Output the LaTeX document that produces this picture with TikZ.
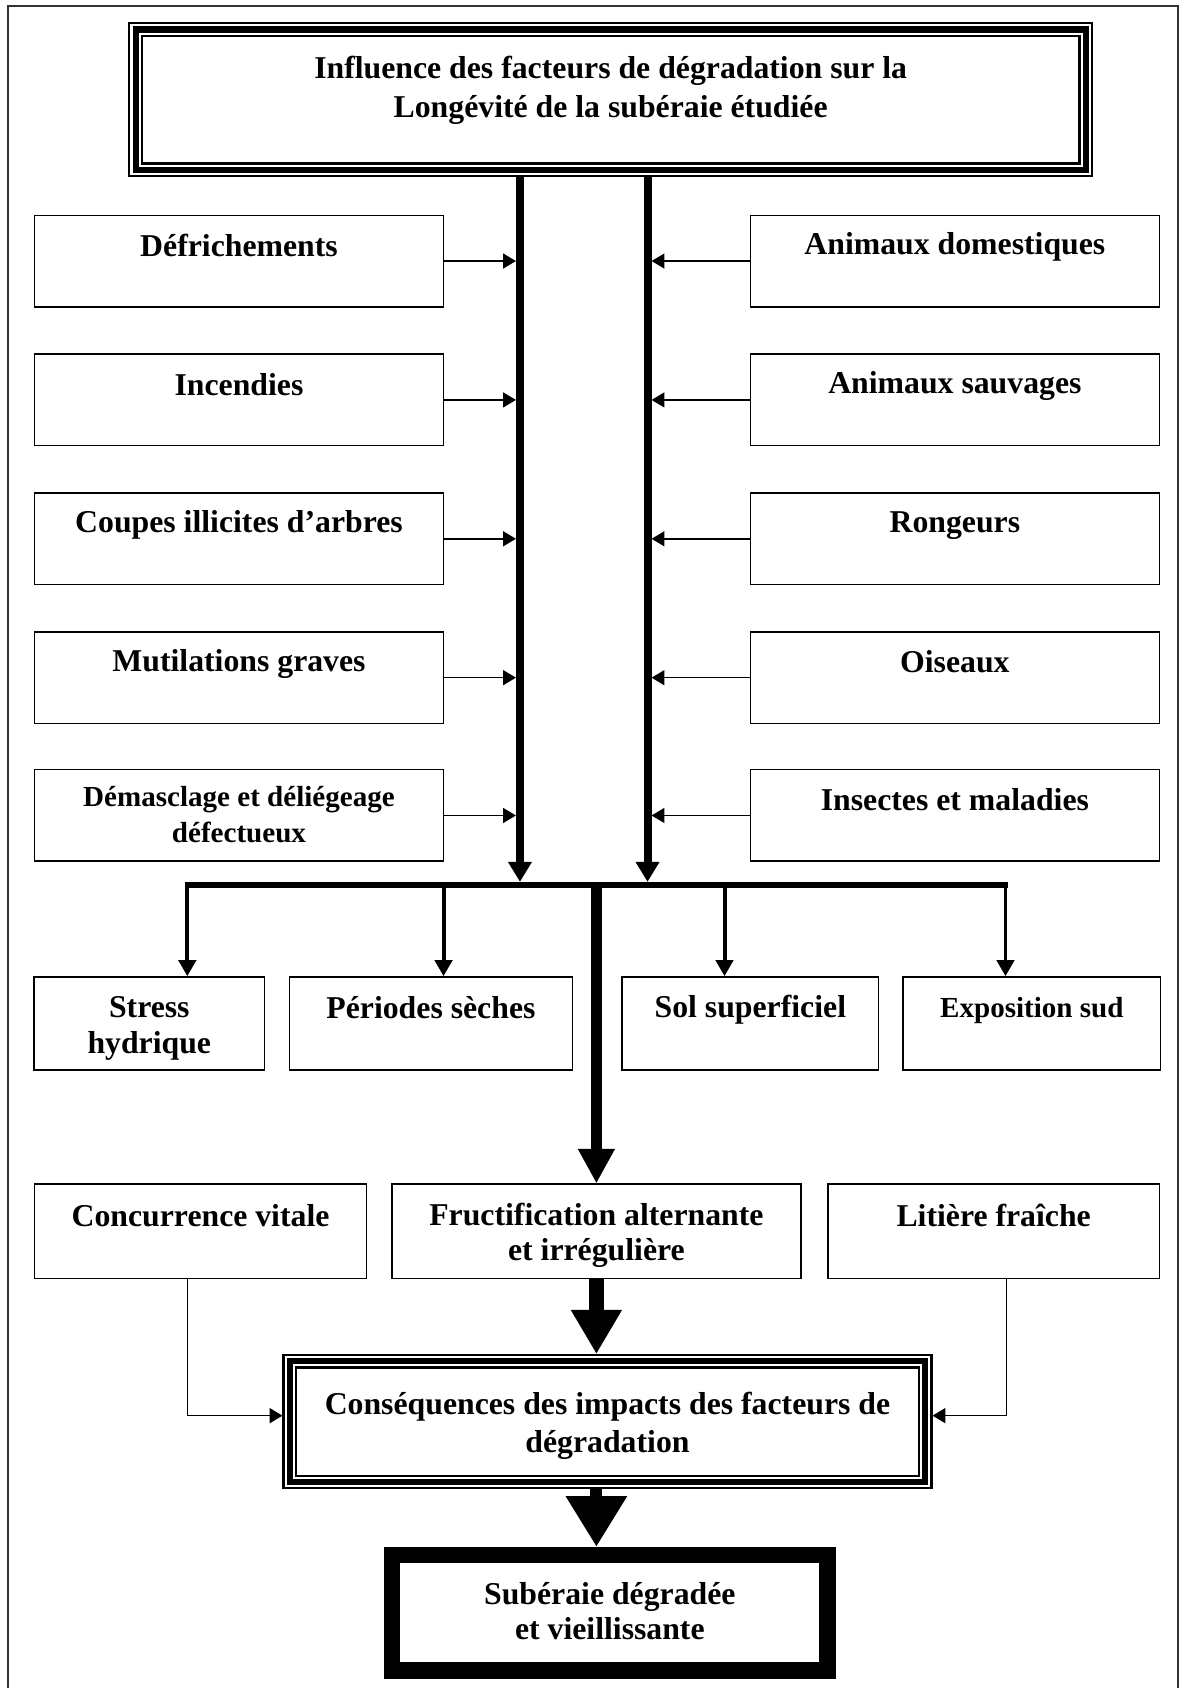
\documentclass[tikz,border=0pt]{standalone}
\usepackage{fontspec}
\setmainfont{Liberation Serif}
\usetikzlibrary{arrows.meta,calc}
\newcommand\mystrut{\rule[-4.5pt]{0pt}{33pt}}
\newcommand\ostrut{\rule[-8pt]{0pt}{33pt}}
\newcommand\tripleframe[1]{%
  \draw[line width=1.9pt] ($(#1.north west)+(0.95,0.95)$) rectangle ($(#1.south east)+(-0.95,-0.95)$);
  \draw[line width=5.6pt] ($(#1.north west)+(6.6,6.6)$) rectangle ($(#1.south east)+(-6.6,-6.6)$);
  \draw[line width=2.2pt] ($(#1.north west)+(12.4,12.4)$) rectangle ($(#1.south east)+(-12.4,-12.4)$);
}
\begin{document}
\begin{tikzpicture}[x=1pt,y=-1pt,
  txt/.style={align=center,inner sep=0pt,font=\bfseries\fontsize{29.5}{33}\selectfont},
  box/.style={txt,draw,line width=1.4pt,rectangle},
  smallfont/.style={font=\bfseries\fontsize{27}{31}\selectfont},
  sidearrow/.style={line width=1.3pt,-{Triangle[length=12pt,width=14pt]}},
  trunk/.style={line width=7.5pt,-{Triangle[length=18.6pt,width=21pt]}},
  branch/.style={line width=3.7pt,-{Triangle[length=15pt,width=16pt]}},
  midarrow/.style={line width=9.5pt,-{Triangle[length=32pt,width=32pt]}},
  fatarrow/.style={line width=14pt,-{Triangle[length=41pt,width=44.5pt]}},
  hugearrow/.style={line width=11pt,-{Triangle[length=47pt,width=54pt]}}
]
\useasboundingbox (0,0) rectangle (1101,1568);
% outer frame
\draw[line width=1.9pt,black!80] (7.5,1568) -- (7.5,5.5) -- (1094,5.5) -- (1094,1568);

% title box
\node[minimum width=895.5pt,minimum height=143pt,inner sep=0pt] (top) at (567.25,92.5) {};
\tripleframe{top}
\node[txt] (toptitle) at ($(top.center)+(0,-12.5)$)
  {\mystrut Influence des facteurs de dégradation sur la\\\mystrut Longévité de la subéraie étudiée};

% left boxes
\node[box,minimum width=380pt,minimum height=85pt] (L1) at (222,242.5) {\mystrut Défrichements\\\mystrut};
\node[box,minimum width=380pt,minimum height=85pt] (L2) at (222,371.5) {\mystrut Incendies\\\mystrut};
\node[box,minimum width=380pt,minimum height=85pt] (L3) at (222,500.5) {\mystrut Coupes illicites d’arbres\\\mystrut};
\node[box,minimum width=380pt,minimum height=85pt] (L4) at (222,629.5) {\mystrut Mutilations graves\\\mystrut};
\node[box,smallfont,minimum width=380pt,minimum height=85pt] (L5) at (222,757.5) {\ostrut Démasclage et déliégeage\\\ostrut défectueux};
% right boxes
\node[box,minimum width=380pt,minimum height=85pt] (R1) at (887,242.5) {\mystrut Animaux domestiques\\\mystrut};
\node[box,minimum width=380pt,minimum height=85pt] (R2) at (887,371.5) {\mystrut Animaux sauvages\\\mystrut};
\node[box,minimum width=380pt,minimum height=85pt] (R3) at (887,500.5) {\mystrut Rongeurs\\\mystrut};
\node[box,minimum width=380pt,minimum height=85pt] (R4) at (887,629.5) {\mystrut Oiseaux\\\mystrut};
\node[box,minimum width=380pt,minimum height=85pt] (R5) at (887,757.5) {\mystrut Insectes et maladies\\\mystrut};

% row 2
\node[box,minimum width=214pt,minimum height=86.5pt] (S1) at (138.7,950.75) {\mystrut Stress\\\mystrut hydrique};
\node[box,minimum width=262.6pt,minimum height=86.5pt] (S2) at (400.3,950.75) {\mystrut Périodes sèches\\\mystrut};
\node[box,minimum width=238pt,minimum height=86.5pt] (S3) at (697,950.75) {\mystrut Sol superficiel\\\mystrut};
\node[box,smallfont,minimum width=239pt,minimum height=86.5pt] (S4) at (958.5,950.75) {\mystrut Exposition sud\\\mystrut};

% row 3
\node[box,minimum width=308.7pt,minimum height=87.5pt] (K) at (186.3,1143.75) {\mystrut Concurrence vitale\\\mystrut};
\node[box,minimum width=380pt,minimum height=87.5pt] (F) at (554,1143.75) {\mystrut Fructification alternante\\\mystrut et irrégulière};
\node[box,minimum width=308pt,minimum height=87.5pt] (Li) at (923,1143.75) {\mystrut Litière fraîche\\\mystrut};

% consequences
\node[txt,minimum width=603.4pt,minimum height=125pt] (C) at (564.3,1320.5)
  {\mystrut Conséquences des impacts des facteurs de\\\mystrut dégradation};
\tripleframe{C}

% final box
\node[txt,minimum width=419pt,minimum height=122pt] (E) at (566.5,1498)
  {\ostrut Subéraie dégradée\\\ostrut et vieillissante};
\draw[line width=15pt] ($(E.north west)+(7.5,7.5)$) rectangle ($(E.south east)+(-7.5,-7.5)$);

% coordinates
\coordinate (jL) at (483,819.2);
\coordinate (jR) at (601.5,819.2);
\coordinate (xl) at (479.25,0);
\coordinate (xr) at (605.25,0);
\coordinate (barA) at (172,822);
\coordinate (barB) at (936,822);
\coordinate (d1) at (174,822);
\coordinate (d2) at (412,822);
\coordinate (d3) at (673,822);
\coordinate (d4) at (934,822);
\coordinate (c0) at (554,822);
\coordinate (kc) at (174,1315);
\coordinate (lc) at (935,1315);

% trunks
\draw[trunk] (top.south -| jL) -- (jL);
\draw[trunk] (top.south -| jR) -- (jR);
% side arrows
\foreach \n in {L1,L2,L3,L4,L5} \draw[sidearrow] (\n.east) -- (\n.east -| xl);
\foreach \n in {R1,R2,R3,R4,R5} \draw[sidearrow] (\n.west) -- (\n.west -| xr);
% bar
\draw[line width=5.6pt] (barA) -- (barB);
\draw[branch] (d1) -- (d1 |- S1.north);
\draw[branch] (d2) -- (d2 |- S2.north);
\draw[branch] (d3) -- (d3 |- S3.north);
\draw[branch] (d4) -- (d4 |- S4.north);
% central
\draw[midarrow] (c0) -- (F.north);
\draw[fatarrow] (F.south) -- (F.south |- C.north);
\draw[hugearrow] (C.south -| F.south) -- (F.south |- E.north);
% side connectors
\draw[sidearrow] (K.south -| kc) -- (kc) -- (kc -| C.west);
\draw[sidearrow] (Li.south -| lc) -- (lc) -- (lc -| C.east);
\end{tikzpicture}
\end{document}
